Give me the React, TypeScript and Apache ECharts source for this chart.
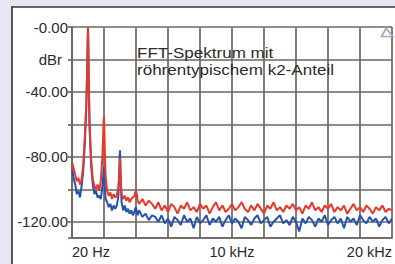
import React, { useEffect, useRef } from "react";
import * as echarts from "echarts";

// Frequencies (Hz) shared by both traces
const freqs = [
  20, 100, 200, 300, 400, 500, 600, 700, 800, 900,
  950, 980, 1000, 1020, 1050, 1100,
  1200, 1300, 1400, 1500, 1600, 1700, 1800, 1900,
  1950, 1980, 2000, 2020, 2050, 2100,
  2200, 2300, 2400, 2500, 2600, 2700, 2800, 2900,
  2950, 2980, 3000, 3020, 3050, 3100,
  3200, 3300, 3400, 3500, 3600, 3700, 3800, 3900,
  3950, 4000, 4050, 4100,
  4200, 4400, 4600, 4800, 5000,
  5200, 5400, 5600, 5800, 6000, 6200, 6400, 6600, 6800, 7000,
  7200, 7400, 7600, 7800, 8000, 8200, 8400, 8600, 8800, 9000,
  9200, 9400, 9600, 9800, 10000, 10200, 10400, 10600, 10800, 11000,
  11200, 11400, 11600, 11800, 12000, 12200, 12400, 12600, 12800, 13000,
  13200, 13400, 13600, 13800, 14000, 14200, 14400, 14600, 14800, 15000,
  15200, 15400, 15600, 15800, 16000, 16200, 16400, 16600, 16800, 17000,
  17200, 17400, 17600, 17800, 18000, 18200, 18400, 18600, 18800, 19000,
  19200, 19400, 19600, 19800, 20000,
];

// Red trace (dBr) – with tube-typical k2
const redDb = [
  -84, -87, -91, -95, -93, -97, -94, -85, -68, -45,
  -25, -8, 0, -10, -35, -60,
  -82, -94, -98, -100, -97, -101, -95, -80,
  -66, -57, -55, -62, -75, -92,
  -101, -104, -102, -106, -103, -105, -104, -98,
  -92, -86, -81, -86, -95, -103,
  -106, -104, -107, -105, -108, -106, -105, -104,
  -102, -101, -103, -107,
  -109, -106, -110, -107, -109,
  -112, -108, -113, -110, -114, -109, -111, -115, -110, -112,
  -108, -113, -111, -114, -109, -112, -110, -115, -111, -108,
  -113, -110, -114, -112, -109, -113, -111, -108, -112, -114,
  -110, -113, -109, -112, -115, -110, -112, -108, -113, -111,
  -114, -110, -112, -109, -113, -111, -115, -110, -112, -108,
  -113, -111, -114, -110, -112, -109, -114, -111, -113, -110,
  -115, -112, -109, -113, -111, -114, -110, -112, -115, -111,
  -113, -110, -114, -112, -113,
];

// Blue trace (dBr)
const blueDb = [
  -88, -93, -97, -103, -101, -105, -98, -89, -72, -48,
  -27, -10, -1, -12, -37, -62,
  -86, -97, -103, -101, -105, -104, -106, -98,
  -92, -88, -86, -90, -98, -106,
  -108, -111, -109, -113, -110, -112, -110, -104,
  -90, -80, -76, -82, -96, -108,
  -113, -110, -114, -112, -115, -113, -116, -114,
  -112, -111, -114, -116,
  -113, -117, -115, -119, -116,
  -117, -120, -116, -121, -118, -123, -117, -119, -122, -116,
  -120, -118, -124, -117, -121, -119, -116, -122, -118, -120,
  -117, -123, -119, -116, -121, -118, -120, -124, -117, -119,
  -122, -118, -116, -121, -119, -117, -123, -120, -118, -116,
  -121, -119, -122, -117, -120, -126, -118, -121, -117, -119,
  -123, -118, -120, -116, -122, -119, -117, -121, -118, -124,
  -117, -120, -118, -122, -116, -119, -121, -117, -120, -118,
  -123, -119, -117, -121, -118,
];

// Tick labels
const xLabelValues = [0, 10000, 20000];
const xLabelTexts = ["20 Hz", "10 kHz", "20 kHz"];
const yLabelValues = [0, -20, -40, -80, -120];
const yLabelTexts = ["-0.00", "dBr", "-40.00", "-80.00", "-120.00"];

const titleLines = ["FFT-Spektrum mit", "röhrentypischem k2-Anteil"];

const GRID = "#6c6660";
const TEXT = "#2b2b2b";
const FONT = "'Liberation Sans', Arial, sans-serif";

export default function App() {
  const ref = useRef<HTMLDivElement>(null);

  useEffect(() => {
    if (!ref.current) return;
    const chart = echarts.init(ref.current, null, { renderer: "svg" });

    const redData = freqs.map((f, i) => [f, -redDb[i]]);
    const blueData = freqs.map((f, i) => [f, -blueDb[i]]);

    chart.setOption({
      animation: false,
      backgroundColor: "#e7e7f3",
      textStyle: { fontFamily: FONT },
      grid: { left: 72, top: 27, right: -2, bottom: 26, containLabel: false },
      xAxis: {
        type: "value",
        min: 0,
        max: 20000,
        interval: 2000,
        position: "bottom",
        axisLine: { show: true, onZero: false, lineStyle: { color: GRID, width: 1.7 } },
        axisTick: { show: false },
        splitLine: { show: true, lineStyle: { color: GRID, width: 1.7 } },
        axisLabel: {
          show: true,
          margin: 6,
          fontSize: 14.5,
          color: TEXT,
          fontFamily: FONT,
          alignMinLabel: "left",
          alignMaxLabel: "right",
          showMinLabel: true,
          showMaxLabel: true,
          formatter: (v: number) => {
            const i = xLabelValues.indexOf(v);
            return i >= 0 ? xLabelTexts[i] : "";
          },
        },
      },
      yAxis: {
        type: "value",
        inverse: true,
        min: 0,
        max: 130,
        interval: 20,
        axisLine: { show: true, lineStyle: { color: GRID, width: 1.7 } },
        axisTick: { show: true, inside: false, length: 4, lineStyle: { color: GRID, width: 1.7 } },
        splitLine: { show: true, lineStyle: { color: GRID, width: 1.7 } },
        axisLabel: {
          show: true,
          margin: 4,
          fontSize: 15,
          color: TEXT,
          fontFamily: FONT,
          formatter: (v: number) => {
            const i = yLabelValues.indexOf(-v === 0 ? 0 : -v);
            if (i < 0) return "";
            if (yLabelTexts[i] === "dBr") return "{u|" + yLabelTexts[i] + "}";
            return yLabelTexts[i];
          },
          rich: {
            u: { fontSize: 15, color: TEXT, fontFamily: FONT, padding: [0, 6, 0, 0] },
          },
        },
      },
      graphic: [
        {
          type: "rect",
          z: -10,
          silent: true,
          shape: { x: 12, y: 7, width: 400, height: 270 },
          style: { fill: "#ffffff" },
        },
        {
          type: "line",
          z: -9,
          silent: true,
          shape: { x1: 11, y1: 7, x2: 400, y2: 7 },
          style: { stroke: "#333333", lineWidth: 1.6 },
        },
        {
          type: "line",
          z: -9,
          silent: true,
          shape: { x1: 12, y1: 7, x2: 12, y2: 270 },
          style: { stroke: "#333333", lineWidth: 1.6 },
        },
        {
          type: "text",
          z: 10,
          x: 137,
          y: 52,
          scaleX: 1.1,
          style: {
            text: titleLines[0],
            fontSize: 15.5,
            fontFamily: FONT,
            fill: TEXT,
            verticalAlign: "middle",
            align: "left",
          },
        },
        {
          type: "text",
          z: 10,
          x: 137,
          y: 69.5,
          scaleX: 1.1,
          style: {
            text: titleLines[1],
            fontSize: 15.5,
            fontFamily: FONT,
            fill: TEXT,
            verticalAlign: "middle",
            align: "left",
          },
        },
        {
          type: "polygon",
          z: 10,
          shape: { points: [[386, 28.5], [381.5, 36.5], [393, 36.5]] },
          style: { fill: "none", stroke: "#a99ec4", lineWidth: 1.6 },
        },
      ],
      series: [
        {
          type: "line",
          name: "blue",
          data: blueData,
          showSymbol: false,
          symbol: "none",
          lineStyle: { color: "#2452ae", width: 2 },
          z: 3,
        },
        {
          type: "line",
          name: "red",
          data: redData,
          showSymbol: false,
          symbol: "none",
          lineStyle: { color: "#e8382c", width: 2 },
          z: 4,
        },
      ],
    });

    return () => chart.dispose();
  }, []);

  return (
    <div
      ref={ref}
      style={{ position: "fixed", left: 0, top: 0, width: 395, height: 264 }}
    />
  );
}
